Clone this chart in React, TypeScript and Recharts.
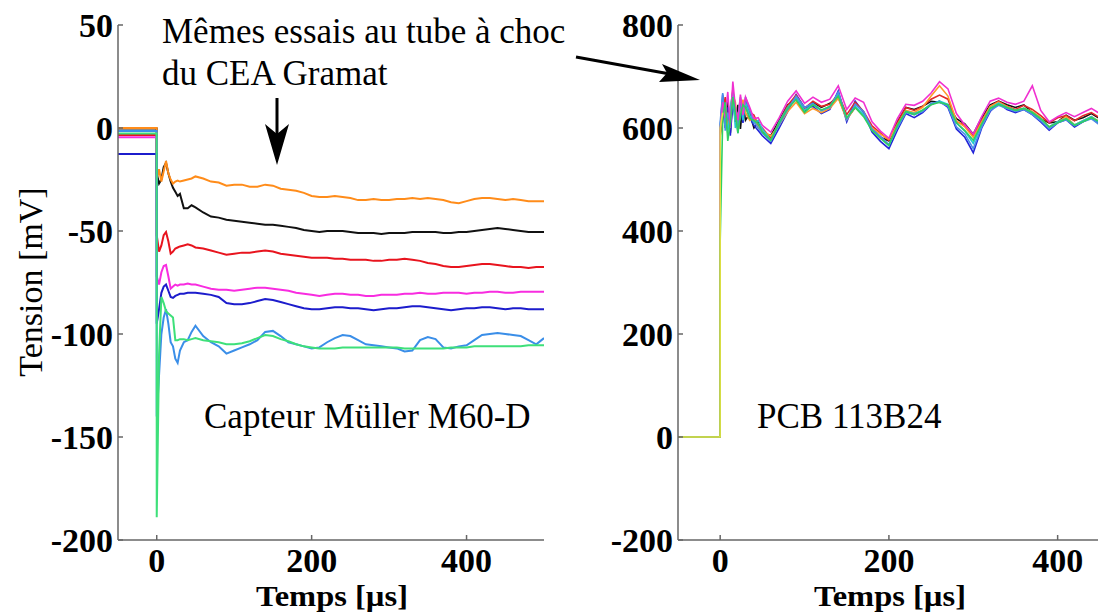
import React from 'react';
import { LineChart, Line, XAxis, YAxis } from 'recharts';

// time grid (µs), shared by both panels
const times = [
  -50, -0.1, 0, 3, 6, 9, 12, 15, 18, 21, 24, 27, 30,
  35, 40, 45, 50, 60, 70, 80, 90, 100, 110,
  120, 130, 140, 150, 160, 170, 180, 190, 200, 210,
  220, 230, 240, 250, 260, 270, 280, 290, 300, 310,
  320, 330, 340, 350, 360, 370, 380, 390, 400, 410,
  420, 430, 440, 450, 460, 470, 480, 490, 500,
];

// Capteur Müller M60-D (mV)
const mullerOrange = [
  0, 0, -25, -20, -26, -21, -16, -22, -25, -27, -26, -25.5, -26,
  -25.5, -25, -24.5, -23.5, -24.5, -26, -26.5, -28, -27.5, -27.5,
  -28.5, -28.5, -27.5, -28, -29.5, -30, -30.5, -31.5, -33, -33.5,
  -33.5, -33, -33.5, -34, -35, -35, -34.5, -35, -35, -34.5,
  -34.5, -34, -34.5, -34, -34.5, -35, -36, -36.5, -35.5, -34.5,
  -34, -34, -34.5, -35, -34.5, -35, -35.5, -35.5, -35.5,
];
const mullerBlack = [
  -0.3, -0.3, -22, -27, -25, -19, -17, -22, -26, -29, -31, -33, -32,
  -39, -39, -37.5, -38.5, -41, -43, -43.5, -44.5, -45, -45.5,
  -46, -46.5, -47, -47, -47.5, -48, -48.5, -49.5, -50, -50.5,
  -50, -50, -50, -50.5, -51, -51, -51, -51.5, -51, -51,
  -51, -50.5, -50.5, -50.5, -50.5, -51, -51, -50.5, -50.5, -50,
  -49.5, -49, -48.5, -49, -49.5, -50, -50.5, -50.5, -50.5,
];
const mullerRed = [
  -3.4, -3.4, -52, -60, -57, -52, -50.5, -55, -61, -60, -58.5, -58, -57.5,
  -57, -56.5, -57, -58, -58.5, -59.5, -60.5, -61.5, -61, -60.5,
  -60.5, -60, -59.5, -60, -61, -61.5, -62, -62.5, -63, -63,
  -63, -63.5, -63.5, -64, -64, -64, -64.5, -64.5, -64, -64,
  -63.5, -64, -64.5, -65.5, -66, -67, -67.5, -67.5, -67, -66.5,
  -66, -66, -66.5, -67, -67.5, -67.5, -68, -67.5, -67.5,
];
const mullerMagenta = [
  -4.5, -4.5, -72, -76, -70, -67, -66.5, -72, -78, -77, -76, -76.5, -76,
  -76, -75.5, -76, -76, -77, -78, -78.5, -78.5, -79, -78.5,
  -78, -77.5, -77.5, -78, -78.5, -79, -80, -80.5, -81, -81.5,
  -81, -80.5, -80.5, -81, -81, -81.5, -81.5, -81, -81, -81,
  -80.5, -80.5, -80, -80.5, -80.5, -80, -80, -80, -80.5, -80,
  -80, -79.5, -79.5, -80, -80, -79.5, -79.5, -79.5, -79.5,
];
const mullerBlue = [
  -12.6, -12.6, -95, -88, -80, -77, -76, -79, -82, -82.5, -81.5, -81, -80.5,
  -80.5, -80, -80, -80, -80.5, -81, -82, -85, -85.5, -85.5,
  -85, -84, -83, -83.5, -84.5, -85.5, -86.5, -87.5, -88, -88,
  -87.5, -87, -87, -87.5, -87.5, -88, -88.5, -88, -87.5, -87.5,
  -87, -86.5, -86.5, -87, -87.5, -88, -88.5, -88, -87.5, -87.5,
  -87, -87, -87.5, -88, -87.5, -87.5, -88, -88, -88,
];
const mullerLightBlue = [
  -1.5, -1.5, -140, -120, -100, -92, -88, -95, -104, -106, -112, -114, -108,
  -104, -103, -99, -96, -101, -104, -106, -109.5, -108, -106.5,
  -105, -103, -99, -98.5, -101, -104, -105, -106, -107, -106.5,
  -104, -102, -100.5, -101, -103, -105, -105.5, -106, -106.5, -107,
  -108.5, -108, -103, -101.5, -102.5, -106.5, -107, -106, -105.5, -103,
  -100.5, -100, -99.5, -100, -100.5, -101, -103, -105, -102,
];
const mullerGreen = [
  -2.7, -2.7, -189, -110, -82, -85, -89, -90, -91, -92, -103, -103, -102.5,
  -102.5, -103, -102.5, -102, -103, -103.5, -104, -105, -105, -104.5,
  -103.5, -102, -100.5, -101, -102.5, -103.5, -105, -106, -106.5, -107,
  -107, -107, -106.5, -106.5, -106.5, -106.5, -106.5, -106.5, -106.5, -106.5,
  -107, -107, -107, -107, -107, -107, -106.5, -106.5, -106.5, -106,
  -106, -106, -106, -106, -106, -106, -105.5, -105.5, -105.5,
];

// PCB 113B24
const pcbBlack = [
  0, 0, 585, 640, 600, 655, 590, 660, 612, 645, 598, 650, 615,
  628, 600, 612, 592, 585, 615, 645, 655, 632, 650,
  640, 648, 660, 618, 640, 625, 598, 582, 575, 612,
  640, 636, 642, 652, 650, 645, 618, 608, 588, 620,
  645, 652, 645, 640, 645, 630, 618, 610, 612, 625,
  615, 620, 628, 618, 612, 605, 608, 615, 610,
];
const pcbBlue = [
  0, 0, 600, 665, 610, 640, 585, 650, 625, 600, 640, 610, 655,
  620, 605, 595, 585, 570, 600, 632, 665, 640, 642,
  628, 636, 672, 612, 652, 630, 592, 574, 560, 596,
  628, 620, 630, 646, 652, 640, 598, 582, 552, 600,
  632, 648, 636, 630, 636, 626, 612, 596, 610, 616,
  602, 612, 620, 606, 596, 588, 596, 604, 602,
];
const pcbMagenta = [
  0, 0, 595, 650, 620, 670, 600, 690, 640, 615, 665, 625, 660,
  640, 618, 620, 605, 592, 620, 652, 672, 648, 660,
  650, 656, 682, 636, 658, 650, 612, 594, 580, 618,
  646, 644, 652, 668, 690, 676, 628, 606, 588, 622,
  652, 658, 650, 646, 652, 682, 634, 612, 622, 630,
  622, 630, 638, 628, 618, 612, 614, 622, 616,
];
const pcbRed = [
  0, 0, 590, 630, 660, 605, 630, 675, 620, 600, 650, 640, 645,
  630, 625, 605, 600, 580, 612, 644, 664, 638, 652,
  642, 646, 666, 626, 650, 632, 604, 590, 576, 610,
  640, 634, 642, 656, 664, 656, 612, 606, 584, 615,
  642, 652, 642, 636, 644, 636, 624, 610, 620, 624,
  614, 624, 630, 620, 612, 606, 612, 618, 614,
];
const pcbOrange = [
  0, 0, 580, 645, 640, 600, 620, 665, 650, 595, 630, 655, 630,
  615, 620, 600, 595, 584, 606, 632, 650, 628, 638,
  630, 638, 658, 616, 640, 624, 600, 588, 578, 606,
  634, 630, 640, 662, 682, 662, 614, 602, 582, 612,
  642, 650, 642, 634, 638, 632, 620, 602, 612, 622,
  606, 614, 622, 612, 604, 598, 602, 610, 606,
];
const pcbCyan = [
  0, 0, 600, 655, 625, 590, 640, 670, 600, 620, 660, 615, 650,
  625, 610, 615, 598, 576, 612, 640, 658, 634, 646,
  634, 642, 666, 618, 642, 626, 596, 582, 566, 604,
  632, 628, 634, 646, 652, 646, 610, 594, 570, 606,
  638, 648, 640, 634, 638, 630, 618, 602, 612, 618,
  606, 614, 622, 610, 600, 580, 588, 604, 602,
];
const pcbLightBlue = [
  0, 0, 610, 668, 595, 630, 610, 655, 640, 590, 650, 630, 660,
  635, 612, 600, 590, 575, 606, 636, 662, 640, 648,
  634, 640, 670, 616, 646, 632, 598, 584, 568, 600,
  630, 626, 632, 648, 650, 642, 602, 588, 560, 602,
  634, 644, 638, 632, 636, 626, 614, 598, 610, 616,
  604, 612, 618, 606, 594, 570, 580, 602, 598,
];
const pcbGreen = [
  0, 0, 380, 620, 650, 575, 610, 660, 630, 590, 625, 645, 640,
  618, 615, 608, 592, 576, 610, 638, 655, 630, 645,
  635, 642, 662, 620, 640, 622, 595, 580, 566, 605,
  632, 626, 635, 645, 650, 645, 610, 595, 576, 608,
  638, 646, 640, 634, 638, 630, 618, 602, 610, 618,
  605, 612, 620, 612, 604, 598, 602, 608, 606,
];
const pcbYellow = [0, 0, 600, 630];

const xTicks = [0, 200, 400];
const mullerTicks = [-200, -150, -100, -50, 0, 50];
const pcbTicks = [-200, 0, 200, 400, 600, 800];

const mullerSeries = [
  { key: 'black', color: '#111111', values: mullerBlack },
  { key: 'orange', color: '#ff8c1a', values: mullerOrange },
  { key: 'red', color: '#e8141e', values: mullerRed },
  { key: 'magenta', color: '#f82ce0', values: mullerMagenta },
  { key: 'blue', color: '#1c1ccc', values: mullerBlue },
  { key: 'lightBlue', color: '#3a8ee8', values: mullerLightBlue },
  { key: 'green', color: '#3ee07a', values: mullerGreen },
];

const pcbSeries = [
  { key: 'black', color: '#111111', values: pcbBlack },
  { key: 'blue', color: '#2424d8', values: pcbBlue },
  { key: 'red', color: '#e02828', values: pcbRed },
  { key: 'orange', color: '#ff9a2a', values: pcbOrange },
  { key: 'cyan', color: '#22c8d0', values: pcbCyan },
  { key: 'lightBlue', color: '#4a8ee8', values: pcbLightBlue },
  { key: 'magenta', color: '#f030d0', values: pcbMagenta },
  { key: 'green', color: '#2fd060', values: pcbGreen },
  { key: 'yellow', color: '#e6e040', values: pcbYellow },
];

const buildRows = (series: { key: string; values: number[] }[]) =>
  times.map((t, i) => {
    const row: Record<string, number | null> = { t };
    series.forEach((s) => {
      row[s.key] = i < s.values.length ? s.values[i] : null;
    });
    return row;
  });

const mullerRows = buildRows(mullerSeries);
const pcbRows = buildRows(pcbSeries);

const serif = 'Liberation Serif';
const tickStyle = { fontSize: 34, fontWeight: 'bold', fill: '#000', fontFamily: serif };
const axisStroke = '#666';
const textStyle = { fontFamily: serif };

function Panel({
  rows,
  series,
  domain,
  ticks,
  left,
  margin,
  strokeWidth,
}: {
  rows: Record<string, number | null>[];
  series: { key: string; color: string }[];
  domain: [number, number];
  ticks: number[];
  left: number;
  margin: { top: number; right: number; bottom: number; left: number };
  strokeWidth: number;
}) {
  return (
    <div style={{ position: 'absolute', left, top: 0 }}>
      <LineChart width={560} height={613} data={rows} margin={margin}>
        <XAxis
          dataKey="t"
          type="number"
          domain={[-50, 500]}
          ticks={xTicks}
          allowDataOverflow
          height={40}
          stroke={axisStroke}
          strokeWidth={1.5}
          tickSize={-5}
          tickMargin={13}
          tick={tickStyle}
        />
        <YAxis
          type="number"
          domain={domain}
          ticks={ticks}
          allowDataOverflow
          width={60}
          stroke={axisStroke}
          strokeWidth={1.5}
          tickSize={-5}
          tickMargin={10}
          tick={tickStyle}
        />
        {series.map((s) => (
          <Line
            key={s.key}
            dataKey={s.key}
            stroke={s.color}
            strokeWidth={strokeWidth}
            dot={false}
            activeDot={false}
            type="linear"
            connectNulls={false}
            isAnimationActive={false}
          />
        ))}
      </LineChart>
    </div>
  );
}

export default function App() {
  return (
    <div
      style={{
        position: 'absolute',
        left: 0,
        top: 0,
        width: 1098,
        height: 613,
        overflow: 'hidden',
        background: '#fff',
      }}
    >
      <Panel
        rows={mullerRows}
        series={mullerSeries}
        domain={[-200, 50]}
        ticks={mullerTicks}
        left={0}
        margin={{ top: 25, right: 16, bottom: 33, left: 58 }}
        strokeWidth={2}
      />
      <Panel
        rows={pcbRows}
        series={pcbSeries}
        domain={[-200, 800]}
        ticks={pcbTicks}
        left={600}
        margin={{ top: 25, right: 18, bottom: 33, left: 18 }}
        strokeWidth={1.6}
      />

      <svg
        width={1098}
        height={613}
        style={{ position: 'absolute', left: 0, top: 0, pointerEvents: 'none' }}
      >
        <text x={162} y={43} fontSize={35} style={textStyle}>Mêmes essais au tube à choc</text>
        <text x={162} y={85} fontSize={35} style={textStyle}>du CEA Gramat</text>
        <text x={204} y={428} fontSize={35} style={textStyle}>Capteur Müller M60-D</text>
        <text x={757} y={428} fontSize={35} style={textStyle}>PCB 113B24</text>

        <text
          x={256}
          y={606}
          fontSize={29}
          fontWeight="bold"
          textLength={152}
          lengthAdjust="spacingAndGlyphs"
          style={textStyle}
        >
          Temps [µs]
        </text>
        <text
          x={814}
          y={606}
          fontSize={29}
          fontWeight="bold"
          textLength={152}
          lengthAdjust="spacingAndGlyphs"
          style={textStyle}
        >
          Temps [µs]
        </text>
        <text
          x={0}
          y={0}
          fontSize={34}
          textAnchor="middle"
          transform="translate(42 282) rotate(-90)"
          style={textStyle}
        >
          Tension [mV]
        </text>

        {/* down arrow */}
        <line x1={277} y1={98} x2={277} y2={140} stroke="#000" strokeWidth={3} />
        <polygon points="277,165 265,124 277,134 289,124" fill="#000" />

        {/* arrow towards the PCB traces */}
        <line x1={576} y1={57} x2={670} y2={74} stroke="#000" strokeWidth={3} />
        <polygon points="700,80 659,82 667,73 662,64" fill="#000" />
      </svg>
    </div>
  );
}
